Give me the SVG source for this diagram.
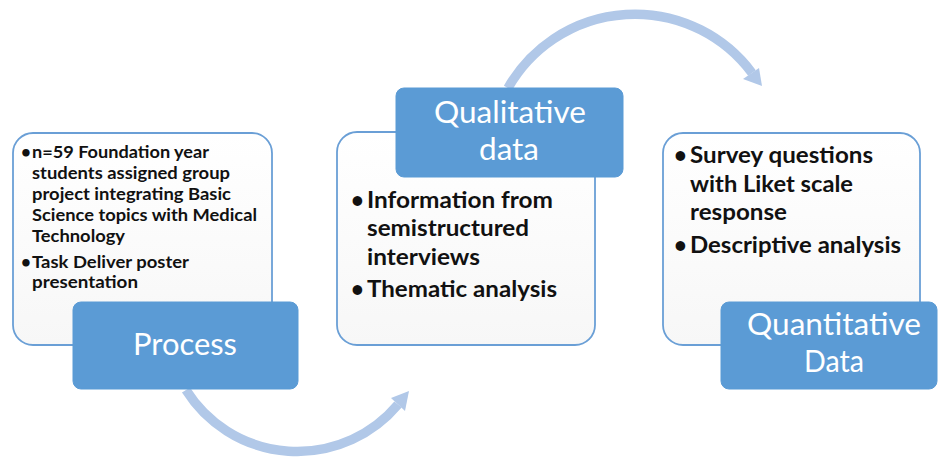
<svg xmlns="http://www.w3.org/2000/svg" width="939" height="459" viewBox="0 0 939 459">
<defs>
<linearGradient id="wg" x1="0" y1="0" x2="0" y2="1">
<stop offset="0" stop-color="#ffffff"/>
<stop offset="1" stop-color="#f7f7f7"/>
</linearGradient>
</defs>
<style>
.card{fill:url(#wg);stroke:#6a9fd6;stroke-width:1.8}
.head{fill:#5b9bd5;stroke:#5b9bd5;stroke-width:1}
.lbl{font-family:Lato,"Open Sans","Liberation Sans",sans-serif;font-size:30px;fill:#ffffff;text-anchor:middle}
.b{font-family:Lato,"Open Sans","Liberation Sans",sans-serif;font-weight:bold;fill:#111111}
.s{font-size:17px}
.m{font-size:22px}
.arc{fill:none;stroke:#b1c8e8;stroke-width:9.5}
.ah{fill:#b1c8e8}
</style>
<rect width="939" height="459" fill="#ffffff"/>
<g id="connectors">
<path class="arc" d="M186,390 A131.5,131.5 0 0 0 398,404.5"/>
<polygon class="ah" points="409,391 405,411 391,398"/>
<path class="arc" d="M508,88 A146,146 0 0 1 752,73"/>
<polygon class="ah" points="762,86 743,79 759,68"/>
</g>
<g id="process-card">
<rect class="card" x="13" y="133" width="259" height="212" rx="20"/>
<text class="b s" x="21" y="158" font-size="15">•</text>
<text class="b s" x="32" y="158" textLength="177" lengthAdjust="spacingAndGlyphs">n=59 Foundation year</text>
<text class="b s" x="32" y="179" textLength="198" lengthAdjust="spacingAndGlyphs">students assigned group</text>
<text class="b s" x="32" y="200" textLength="199" lengthAdjust="spacingAndGlyphs">project integrating Basic</text>
<text class="b s" x="32" y="221" textLength="225" lengthAdjust="spacingAndGlyphs">Science topics with Medical</text>
<text class="b s" x="32" y="242" textLength="93" lengthAdjust="spacingAndGlyphs">Technology</text>
<text class="b s" x="21" y="268" font-size="15">•</text>
<text class="b s" x="32" y="268" textLength="157" lengthAdjust="spacingAndGlyphs">Task Deliver poster</text>
<text class="b s" x="32" y="288" textLength="106" lengthAdjust="spacingAndGlyphs">presentation</text>
</g>
<g id="process">
<rect class="head" x="73" y="302" width="225" height="87" rx="8"/>
<text class="lbl" x="185" y="355" textLength="104" lengthAdjust="spacingAndGlyphs">Process</text>
</g>
<g id="qualitative-card">
<rect class="card" x="337" y="132" width="258" height="213" rx="20"/>
<text class="b m" x="351" y="208">•</text>
<text class="b m" x="367" y="208" textLength="186" lengthAdjust="spacingAndGlyphs">Information from</text>
<text class="b m" x="367" y="236" textLength="162" lengthAdjust="spacingAndGlyphs">semistructured</text>
<text class="b m" x="367" y="265" textLength="113" lengthAdjust="spacingAndGlyphs">interviews</text>
<text class="b m" x="351" y="297">•</text>
<text class="b m" x="367" y="297" textLength="190" lengthAdjust="spacingAndGlyphs">Thematic analysis</text>
</g>
<g id="qualitative">
<rect class="head" x="396" y="88" width="227" height="89" rx="8"/>
<text class="lbl" x="510" y="123" textLength="152" lengthAdjust="spacingAndGlyphs">Qualitative</text>
<text class="lbl" x="509" y="160" textLength="60" lengthAdjust="spacingAndGlyphs">data</text>
</g>
<g id="quantitative-card">
<rect class="card" x="663" y="133" width="257" height="212" rx="20"/>
<text class="b m" x="674" y="163">•</text>
<text class="b m" x="690" y="163" textLength="183" lengthAdjust="spacingAndGlyphs">Survey questions</text>
<text class="b m" x="690" y="192" textLength="163" lengthAdjust="spacingAndGlyphs">with Liket scale</text>
<text class="b m" x="690" y="220" textLength="97" lengthAdjust="spacingAndGlyphs">response</text>
<text class="b m" x="674" y="253">•</text>
<text class="b m" x="690" y="253" textLength="211" lengthAdjust="spacingAndGlyphs">Descriptive analysis</text>
</g>
<g id="quantitative">
<rect class="head" x="721" y="302" width="216" height="87" rx="8"/>
<text class="lbl" x="834" y="335" textLength="174" lengthAdjust="spacingAndGlyphs">Quantitative</text>
<text class="lbl" x="834" y="372" textLength="60" lengthAdjust="spacingAndGlyphs">Data</text>
</g>
</svg>
